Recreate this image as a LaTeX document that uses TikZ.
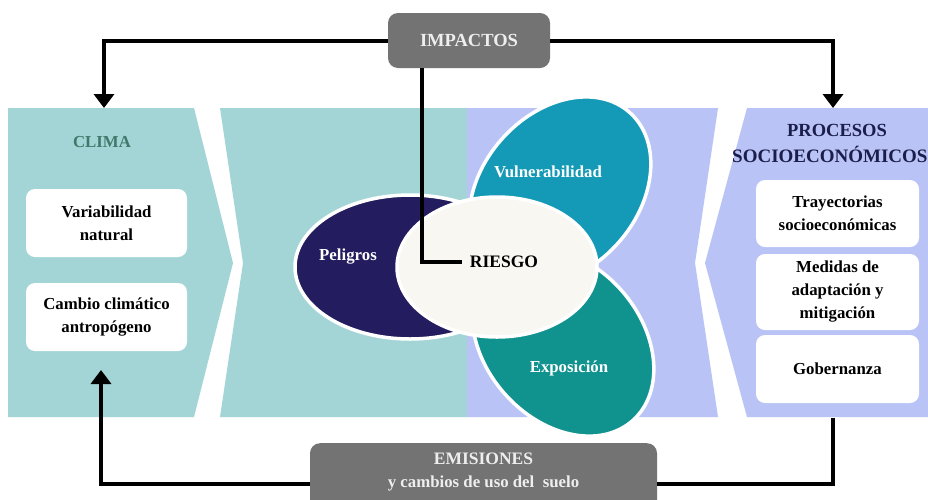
\documentclass[tikz,border=0pt]{standalone}
\usepackage{fontspec}
\setmainfont{Liberation Serif}
\usetikzlibrary{arrows.meta}
\definecolor{panelteal}{HTML}{A4D5D6}
\definecolor{panellav}{HTML}{B9C3F6}
\definecolor{pelcol}{HTML}{231D5F}
\definecolor{vulcol}{HTML}{1499B6}
\definecolor{expcol}{HTML}{10928F}
\definecolor{riecol}{HTML}{F9F7F1}
\definecolor{greycol}{HTML}{737373}
\definecolor{greytext}{HTML}{EEEEEE}
\definecolor{climacol}{HTML}{40786B}
\definecolor{proccol}{HTML}{1B1E4B}
\begin{document}
\begin{tikzpicture}[x=1pt,y=-1pt,
  txt/.style={font=\fontsize{16.8}{23}\selectfont\bfseries, align=center, inner sep=0pt},
  wbox/.style={fill=white, rounded corners=9pt, inner sep=0pt},
  gbox/.style={fill=greycol, rounded corners=10pt, inner sep=0pt},
  petal/.style={draw=white, line width=3.5pt},
  conn/.style={draw=black, line width=4pt},
  arrowend/.style={-{Triangle[width=20pt,length=14pt]}}
]
\useasboundingbox (0,0) rectangle (928,499);
\clip (0,0) rectangle (928,499);
\fill[white] (0,0) rectangle (928,499);

% panels
\fill[panelteal] (8,108) -- (194,108) -- (233,263) -- (194,417) -- (8,417) -- cycle;
\fill[panelteal] (220,108) -- (467,108) -- (467,417) -- (220,417) -- (243,263) -- cycle;
\fill[panellav] (467,108) -- (718,108) -- (695,263) -- (718,417) -- (467,417) -- cycle;
\fill[panellav] (747,108) -- (940,108) -- (940,417) -- (747,417) -- (705,263) -- cycle;

% risk ellipses
\filldraw[petal, fill=pelcol] (410,267) ellipse (115 and 72);
\filldraw[petal, fill=vulcol, rotate around={48.5:(560,191)}] (560,191) ellipse (105 and 78);
\filldraw[petal, fill=expcol, rotate around={-48.5:(563,342)}] (563,342) ellipse (105 and 78);
\filldraw[petal, fill=riecol] (497,267) ellipse (100 and 70);

\node[txt, text=white] (peligros) at (348,257) {Peligros};
\node[txt, text=white] (vulnera) at (548,172) {Vulnerabilidad};
\node[txt, text=white] (exposic) at (569,368) {Exposición};
\node[txt, font=\fontsize{17.5}{20}\selectfont\bfseries] (riesgo) at (504,262) {RIESGO};

% left panel
\node[txt, text=climacol] (clima) at (102,142) {CLIMA};
\node[wbox, txt, minimum width=161pt, minimum height=68pt] (varnat) at (106.5,223) {Variabilidad\\natural};
\node[wbox, txt, minimum width=161pt, minimum height=68pt] (cambio) at (106.5,317) {Cambio climático\\antropógeno};

% right panel
\node[txt, text=proccol, font=\fontsize{18.5}{24}\selectfont\bfseries] (procesos) at (837,130) {PROCESOS};
\node[txt, text=proccol, font=\fontsize{19}{24}\selectfont\bfseries, anchor=west] (socioec) at (732,154) {SOCIOECONÓMICOS};
\node[wbox, txt, minimum width=163pt, minimum height=67pt] (trayect) at (837.5,213.5) {Trayectorias\\socioeconómicas};
\node[wbox, txt, minimum width=163pt, minimum height=76pt] (medidas) at (837.5,292) {Medidas de\\adaptación y\\mitigación};
\node[wbox, txt, minimum width=163pt, minimum height=68pt] (gobern) at (837.5,369) {Gobernanza};

% grey boxes
\node[gbox, txt, text=greytext, font=\fontsize{18.5}{20}\selectfont\bfseries, minimum width=162pt, minimum height=55pt] (impactos) at (469,40.5) {IMPACTOS};
\node[gbox, minimum width=347pt, minimum height=74pt, anchor=north] (emisiones) at (483.5,443) {};
\node[txt, text=greytext] (emitxt) at (483.5,472.5) {{\fontsize{17.5}{23}\selectfont EMISIONES}\\y cambios de uso del~ suelo};

% connectors
\coordinate (climatop) at (104,108);
\coordinate (proctop) at (833,108);
\coordinate (climabot) at (101,370);
\coordinate (procbot) at (833,418);
\draw[conn, arrowend] (impactos.west) -| (climatop);
\draw[conn, arrowend] (impactos.east) -| (proctop);
\draw[conn] ([xshift=-47pt]impactos.south) |- ([xshift=-8pt]riesgo.west);
\draw[conn, arrowend] ([yshift=-4pt]emisiones.west) -| (climabot);
\draw[conn] ([yshift=-4pt]emisiones.east) -| (procbot);
\end{tikzpicture}
\end{document}
